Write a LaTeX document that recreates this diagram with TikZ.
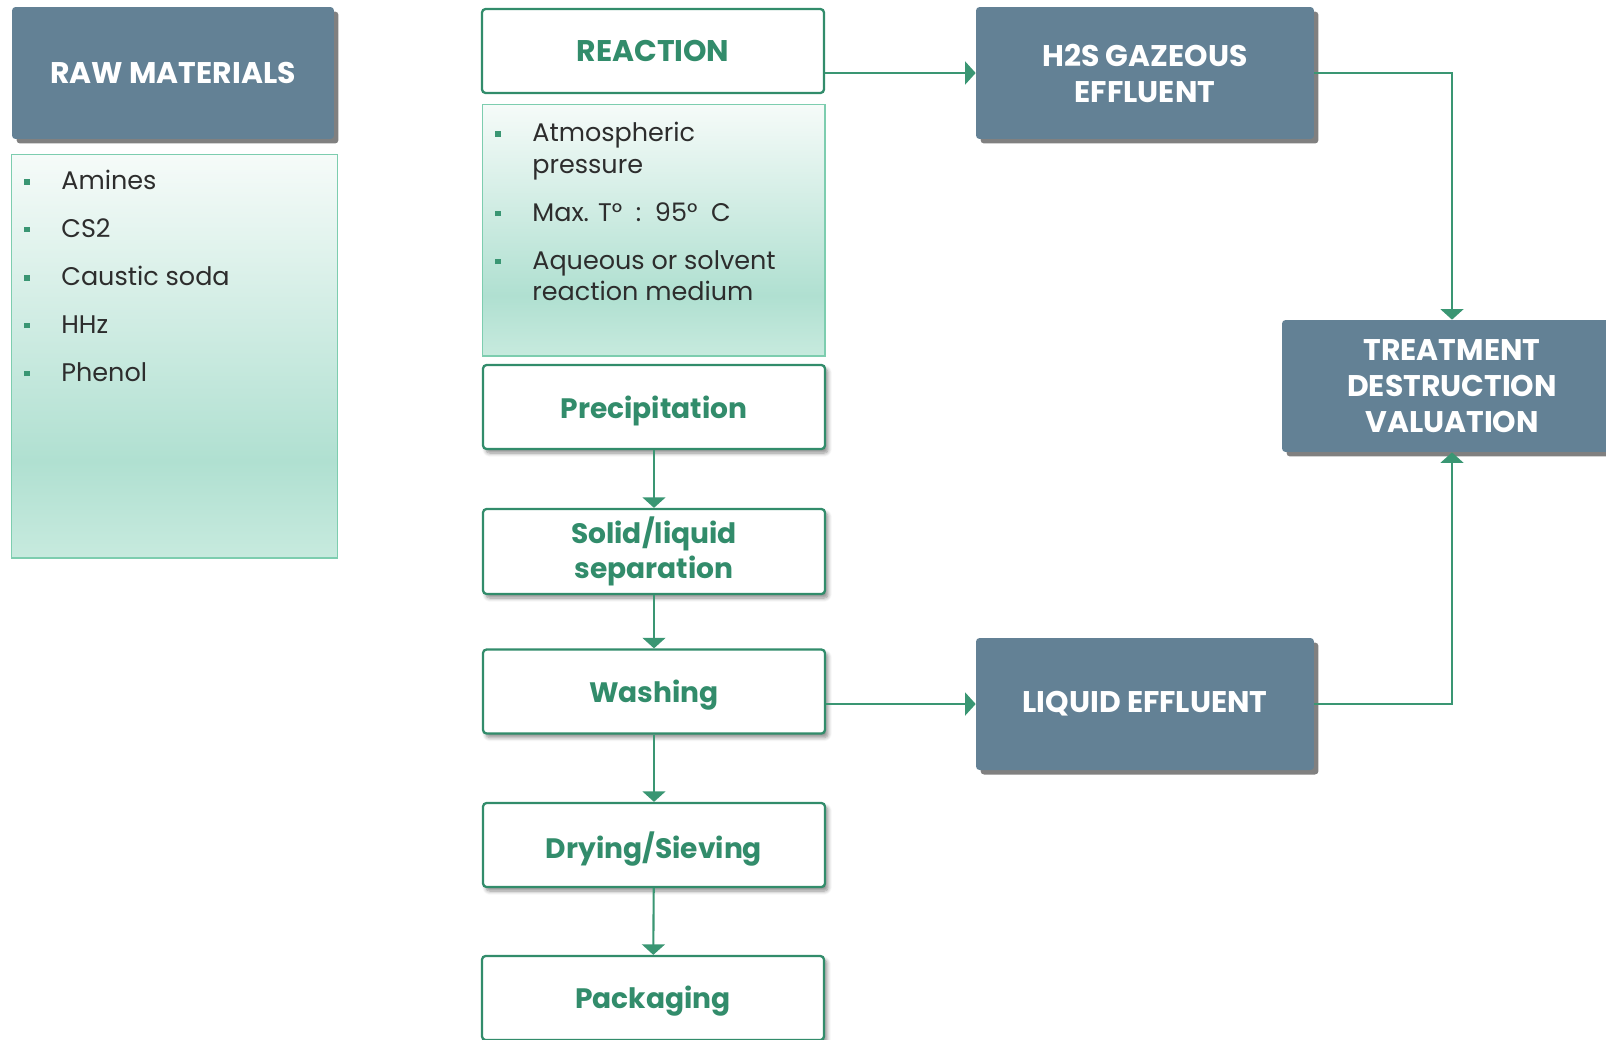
\documentclass[tikz,border=0pt]{standalone}
\usepackage{fontspec}
\setmainfont{Poppins}
\usetikzlibrary{arrows.meta,shadows,shadows.blur}
\definecolor{vert}{RGB}{50,140,107}
\definecolor{vertFleche}{RGB}{58,150,115}
\definecolor{ardoise}{RGB}{99,129,149}
\definecolor{ombre}{RGB}{128,128,128}
\definecolor{vertBord}{RGB}{125,205,175}
\definecolor{vertHaut}{RGB}{246,251,249}
\definecolor{vertMilieu}{RGB}{176,224,209}
\definecolor{vertBas}{RGB}{199,234,222}
\definecolor{texte}{RGB}{45,45,45}
\pgfdeclareverticalshading{degrade}{100bp}{color(0bp)=(vertBas); color(25bp)=(vertBas); color(37bp)=(vertMilieu); color(75bp)=(vertHaut); color(100bp)=(vertHaut)}
\begin{document}
\begin{tikzpicture}[x=0.02cm,y=-0.02cm]
	\tikzstyle{fleche}=[-{Triangle[width=13pt,length=6pt]},line width=1.2pt,draw=vertFleche]
	\tikzstyle{sombre}=[fill=ardoise,rounded corners=2pt,text=white,font=\bfseries\fontsize{17}{20.5}\selectfont,align=center,drop shadow={shadow xshift=0.09cm,shadow yshift=-0.09cm,fill=ombre,opacity=1}]
	\tikzstyle{etape}=[draw=vert,line width=1.3pt,fill=white,rounded corners=2pt,text=vert,font=\bfseries\fontsize{16}{19.5}\selectfont,align=center,minimum width=6.84cm,minimum height=1.68cm]
	\tikzstyle{ombrage}=[blur shadow={shadow xshift=0.06cm,shadow yshift=-0.08cm,shadow blur steps=6,shadow opacity=45}]
	\tikzstyle{liste}=[draw=vertBord,line width=0.6pt,shading=degrade]
	\tikzstyle{puceTexte}=[anchor=north west,inner sep=0pt,align=left,text=texte,font=\fontsize{14.5}{17.8}\selectfont]
	\def\Puce{\llap{\textcolor{vertFleche}{\rule[0.2em]{3pt}{3pt}}\hspace{18pt}}}
	\def\Abaisse#1{\raisebox{-2pt}[\height][\depth]{#1}}
	\useasboundingbox (0,0) rectangle (1606,1039);
	\clip (0,0) rectangle (1606,1039);
	% colonne de gauche
	\node[sombre,minimum width=6.44cm,minimum height=2.64cm] (Brut) at (173,73) {RAW MATERIALS};
	\node[liste,minimum width=6.54cm,minimum height=8.08cm] (ListeBrut) at (174.5,356) {};
	\node[puceTexte] (Amines) at (61,170) {\Puce Amines};
	\node[puceTexte] (Sulfure) at (61,218) {\Puce CS2};
	\node[puceTexte] (Soude) at (61,266) {\Puce Caustic soda};
	\node[puceTexte] (Hhz) at (61,315) {\Puce HHz};
	\node[puceTexte] (Phenol) at (61,362) {\Puce Phenol};
	% colonne du procede
	\node[etape,font=\bfseries\fontsize{17}{20}\selectfont] (Reac) at (653,51) {REACTION};
	\node[liste,minimum width=6.86cm,minimum height=5.04cm] (ListeReac) at (653.5,230) {};
	\node[puceTexte] (Pression) at (532,122) {\Puce Atmospheric\\pressure};
	\node[puceTexte] (Temp) at (532,202) {\Puce Max. T°\ \ :\ \ 95°\ \ C};
	\node[puceTexte] (Milieu) at (532,250) {\Puce Aqueous or solvent\\reaction medium};
	\node[etape,ombrage] (Precip) at (654,407) {\Abaisse{Precipitation}};
	\node[etape,ombrage,minimum height=1.7cm] (Separ) at (654,551.5) {Solid/liquid\\separation};
	\node[etape,ombrage] (Lavage) at (654,691.5) {\Abaisse{Washing}};
	\node[etape,ombrage] (Sechage) at (654,845) {\Abaisse{Drying/Sieving}};
	\node[etape,ombrage] (Emball) at (653,998) {\Abaisse{Packaging}};
	% effluents
	\node[sombre,minimum width=6.76cm,minimum height=2.64cm] (Gaz) at (1145,73) {H2S GAZEOUS\\EFFLUENT};
	\node[sombre,minimum width=6.8cm,minimum height=2.64cm] (Traite) at (1452,386) {TREATMENT\\DESTRUCTION\\VALUATION};
	\node[sombre,minimum width=6.76cm,minimum height=2.64cm] (Liquide) at (1145,704) {LIQUID EFFLUENT};
	\draw[fleche] (Reac.east |- Gaz.west)--(Gaz.west);
	\draw[fleche] (Gaz.east) -| (Traite.north);
	\draw[fleche] (Lavage.east |- Liquide.west)--(Liquide.west);
	\draw[fleche] (Liquide.east) -| (Traite.south);
	\draw[fleche] (Precip)--(Separ);
	\draw[fleche] (Separ)--(Lavage);
	\draw[fleche] (Lavage)--(Sechage);
	\draw[fleche] (Sechage)--(Emball);
\end{tikzpicture}
\end{document}
